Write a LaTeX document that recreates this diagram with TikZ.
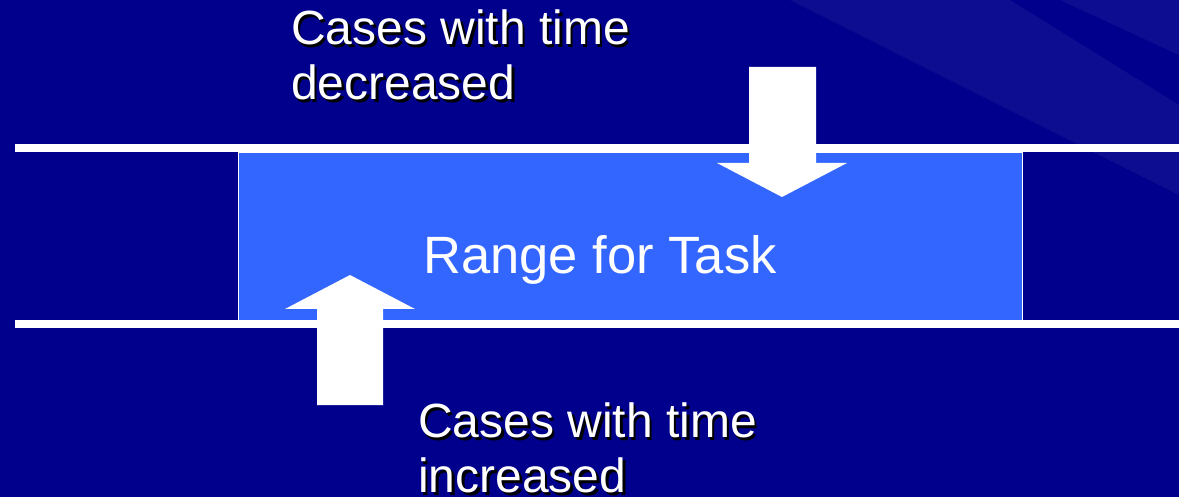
\documentclass[tikz,border=0pt]{standalone}
\usepackage{fontspec}
\setmainfont{Liberation Sans}
\usepackage{tikz}
\usetikzlibrary{positioning,calc}
\definecolor{navy}{HTML}{00008C}
\definecolor{rangeblue}{HTML}{3366FF}

\newcommand{\shadownote}[3]{%
  \node[note,text=black] (#1-shadow) at ($(#2)+(2.5,2.5)$) {#3};
  \node[note] (#1) at (#2) {#3};}

\begin{document}
\begin{tikzpicture}[x=1pt,y=-1pt,
  rail/.style={draw=white,line width=8pt},
  rangebox/.style={draw=white,line width=1.2pt,fill=rangeblue,inner sep=0pt,anchor=north west},
  blockarrow/.style={fill=white},
  note/.style={text=white,font=\fontsize{48}{55}\selectfont,align=left,inner sep=0pt,anchor=north west},
  streak/.style={fill=white,opacity=0.05}
]
  \useasboundingbox[fill=navy] (0,0) rectangle (1179,497);
  \fill[streak] (790,0) -- (1010,0) -- (1179,105) -- (1179,195) -- cycle;
  \fill[streak] (1060,0) -- (1179,0) -- (1179,55) -- cycle;
  \node[rangebox,minimum width=784pt,minimum height=168pt] (range) at (238,152) {};
  \draw[rail] (15,148) -- (1179,148);
  \draw[rail] (15,324) -- (1179,324);
  \fill[blockarrow] (749,67) -- (816,67) -- (816,163) -- (847,163) -- (782,197) -- (717,163) -- (749,163) -- cycle;
  \fill[blockarrow] (317,405) -- (383,405) -- (383,309) -- (415,309) -- (350,275) -- (285,309) -- (317,309) -- cycle;
  \node[text=white,font=\fontsize{52.5}{60}\selectfont,anchor=base] (task) at (600,274) {Range for Task};
  \shadownote{dec}{291,10}{Cases with time\\decreased}
  \shadownote{inc}{418,403}{Cases with time\\increased}
\end{tikzpicture}
\end{document}
